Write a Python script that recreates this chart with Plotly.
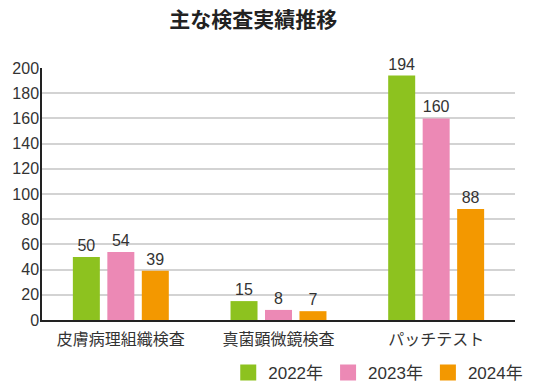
import plotly.graph_objects as go

categories = ["皮膚病理組織検査", "真菌顕微鏡検査", "パッチテスト"]
years = ["2022年", "2023年", "2024年"]
values_2022 = [50, 15, 194]
values_2023 = [54, 8, 160]
values_2024 = [39, 7, 88]
colors = ["#8dc21f", "#ec89b5", "#f39800"]
y_ticks = list(range(0, 201, 20))

FONT = "Liberation Sans, Noto Sans CJK JP, sans-serif"

fig = go.Figure()
for name, vals, col in zip(years, [values_2022, values_2023, values_2024], colors):
    fig.add_trace(go.Bar(
        x=categories, y=vals, name=name, marker_color=col, marker_line_width=0,
        text=[str(v) for v in vals], textposition="outside",
        textfont=dict(size=16, color="#333333", family=FONT),
        cliponaxis=False, showlegend=False,
    ))
for name, col in zip(years, colors):
    fig.add_trace(go.Scatter(
        x=[None], y=[None], mode="markers", name=name,
        marker=dict(symbol="square", size=17, color=col),
        showlegend=True,
    ))

fig.update_layout(
    width=548, height=392,
    margin=dict(l=42, r=33, t=68, b=72, autoexpand=False),
    paper_bgcolor="white", plot_bgcolor="white",
    barmode="group", bargap=0.344, bargroupgap=0.217,
    font=dict(family=FONT, color="#333333"),
    title=dict(text="<b>主な検査実績推移</b>", x=0.462, xanchor="center",
               y=1 - 20 / 392, yanchor="middle", xref="container", yref="container",
               automargin=False,
               font=dict(size=21, color="#222222", family="Noto Sans CJK JP, sans-serif")),
    showlegend=True,
    legend=dict(orientation="h", x=1.028, xanchor="right",
                y=-0.21, yanchor="middle",
                font=dict(size=17, color="#333333", family=FONT),
                itemwidth=30, tracegroupgap=0, bgcolor="rgba(0,0,0,0)"),
)
fig.update_xaxes(showline=True, linecolor="#222222", linewidth=1.5, ticks="",
                 tickfont=dict(size=16, color="#333333", family="Noto Sans CJK JP, sans-serif"),
                 showgrid=False, automargin=False, ticklabelstandoff=4)
fig.update_yaxes(range=[0, 200], tickvals=y_ticks, showline=True, linecolor="#222222",
                 linewidth=1.5, showgrid=True, gridcolor="#d3d3d3", gridwidth=2,
                 tickfont=dict(size=16, color="#333333", family=FONT),
                 zeroline=False, ticks="", ticklen=0, automargin=False,
                 ticklabelstandoff=-2)

fig.write_html("out.html", post_script="document.body.style.margin='0';",
               config={"displayModeBar": False})
